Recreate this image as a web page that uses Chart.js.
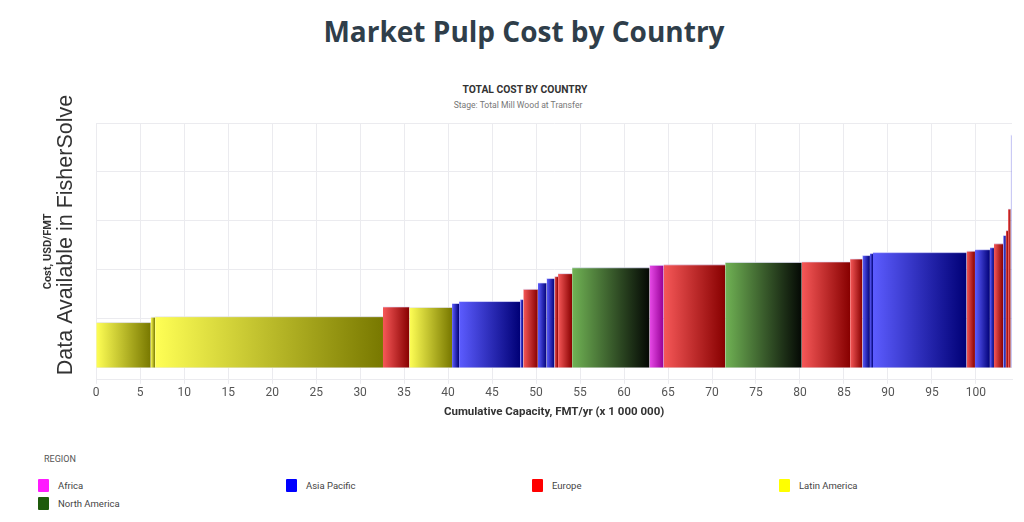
<!DOCTYPE html>
<html>
<head>
<meta charset="utf-8">
<title>Market Pulp Cost by Country</title>
<script src="https://cdn.jsdelivr.net/npm/chart.js@4.4.1/dist/chart.umd.min.js"></script>
<style>
  html, body { margin: 0; padding: 0; background: #fff; }
  body { width: 1024px; height: 522px; position: relative; overflow: hidden; font-family: Roboto, sans-serif; }
  h1 { position: absolute; top: 0; left: 12px; width: 1024px; margin: 0; text-align: center;
       font-family: "Open Sans", sans-serif; font-weight: 700; font-size: 28px; line-height: 62px; color: #2f3e4a; }
  .chart-title { position: absolute; left: 425px; width: 200px; text-align: center; top: 84px; font-size: 10.3px; font-weight: 700; color: #333; line-height: 12px; }
  .chart-sub { position: absolute; left: 418px; width: 200px; text-align: center; top: 100px; font-size: 8.6px; color: #777; line-height: 10px; }
  #wrap { position: absolute; left: 0; top: 72px; width: 1024px; height: 352px; }
  .legend-title { position: absolute; left: 44px; top: 454px; font-size: 9px; color: #555; }
  .item { position: absolute; font-size: 9.5px; color: #444; line-height: 13px; }
  .item span { display: inline-block; width: 11px; height: 13px; margin-right: 9px; vertical-align: top; border-radius: 1px; }
</style>
</head>
<body>
<h1>Market Pulp Cost by Country</h1>
<div class="chart-title">TOTAL COST BY COUNTRY</div>
<div class="chart-sub">Stage: Total Mill Wood at Transfer</div>
<div id="wrap"><canvas id="custoChart"></canvas></div>
<div class="legend-title">REGION</div>
<div id="legend"></div>
<script>
// faixas de capacidade acumulada (milhoes FMT/ano) e custo de cada pais
const capStart = [0, 6.2, 6.7, 32.6, 35.6, 40.45, 41.25, 48.2, 48.55, 50.2, 51.2, 52.1, 52.5, 54.1, 62.9, 64.5, 71.5, 80.2, 85.7, 87.1, 87.95, 88.3, 98.94, 99.89, 101.59, 102.05, 103.1, 103.4, 103.65, 103.95];
const capEnd   = [6.2, 6.7, 32.6, 35.6, 40.45, 41.25, 48.2, 48.55, 50.2, 51.2, 52.1, 52.5, 54.1, 62.9, 64.5, 71.5, 80.2, 85.7, 87.1, 87.95, 88.3, 98.94, 99.89, 101.59, 102.05, 103.1, 103.4, 103.65, 103.95, 104.08];
const cost     = [92, 103, 104, 124, 123, 131, 135, 139, 160, 173, 182, 186, 192, 204, 209, 210, 215, 216, 222, 229, 233, 235, 238, 241, 245, 253, 270, 280, 324, 475];
const barRegion = ['Latin America', 'Latin America', 'Latin America', 'Europe', 'Latin America', 'Asia Pacific', 'Asia Pacific', 'Asia Pacific', 'Europe', 'Asia Pacific', 'Asia Pacific', 'Europe', 'Europe', 'North America', 'Africa', 'Europe', 'North America', 'Europe', 'Europe', 'Asia Pacific', 'Asia Pacific', 'Asia Pacific', 'Europe', 'Asia Pacific', 'Asia Pacific', 'Europe', 'Asia Pacific', 'Europe', 'Europe', 'Asia Pacific'];

const regions = ['Africa', 'Asia Pacific', 'Europe', 'Latin America', 'North America'];
const xTickValues = [0, 5, 10, 15, 20, 25, 30, 35, 40, 45, 50, 55, 60, 65, 70, 75, 80, 85, 90, 95, 100];
const yGridValues = [-25, 0, 100, 200, 300, 400, 500];

const cores = {
    'Africa':        { claro: 'rgb(232,74,232)', escuro: 'rgb(150,0,150)', legenda: '#ff1aff' },
    'Asia Pacific':  { claro: 'rgb(92,92,255)',  escuro: 'rgb(0,0,118)',   legenda: '#0000ff' },
    'Europe':        { claro: 'rgb(246,88,88)',  escuro: 'rgb(135,0,0)',   legenda: '#ff0000' },
    'Latin America': { claro: 'rgb(255,255,85)', escuro: 'rgb(120,120,0)', legenda: '#ffff00' },
    'North America': { claro: 'rgb(112,178,84)', escuro: 'rgb(4,8,4)',     legenda: '#1e5b0c' }
};

// degrade horizontal de cada barra (claro -> escuro)
function gradienteBarra(chart, ini, fim, cor) {
    if (!chart.chartArea) return cor.claro;
    const xs = chart.scales.x;
    const x0 = xs.getPixelForValue(ini);
    const x1 = xs.getPixelForValue(fim);
    if (!isFinite(x0) || x1 - x0 < 1.5) return 'rgba(150,150,235,0.75)';
    const g = chart.ctx.createLinearGradient(x0, 0, x1, 0);
    g.addColorStop(0, cor.claro);
    g.addColorStop(1, cor.escuro);
    return g;
}

const datasets = capStart.map((ini, i) => {
    const cor = cores[barRegion[i]];
    return {
        label: barRegion[i],
        data: [{ x: ini, y: cost[i] }, { x: capEnd[i], y: cost[i] }],
        fill: 'origin',
        pointRadius: 0,
        borderWidth: 1,
        borderColor: 'rgba(230,230,255,0.7)',
        backgroundColor: c => gradienteBarra(c.chart, ini, capEnd[i], cor)
    };
});

// texto lateral
const textoLateral = {
    id: 'textoLateral',
    afterDraw(chart) {
        const c = chart.ctx;
        c.save();
        c.translate(66, 163);
        c.rotate(-Math.PI / 2);
        c.font = '21.5px "Liberation Sans", Arial, sans-serif';
        c.fillStyle = '#333';
        c.textAlign = 'center';
        c.textBaseline = 'middle';
        c.fillText('Data Available in FisherSolve', 0, 0);
        c.restore();
    }
};

const grade = '#ebebef';

new Chart(document.getElementById('custoChart'), {
    type: 'line',
    data: { datasets },
    options: {
        responsive: true,
        maintainAspectRatio: false,
        animation: false,
        events: [],
        layout: { padding: { top: 51, right: 12, bottom: 1, left: 0 } },
        plugins: {
            legend: { display: false },
            tooltip: { enabled: false }
        },
        scales: {
            x: {
                type: 'linear',
                min: 0,
                max: 104.1,
                afterBuildTicks: axis => { axis.ticks = xTickValues.map(v => ({ value: v })); },
                grid: { color: grade, tickLength: 4 },
                border: { color: grade },
                ticks: { color: '#555', font: { family: 'Roboto', size: 12 }, padding: 2, maxRotation: 0 },
                title: {
                    display: true,
                    text: 'Cumulative Capacity, FMT/yr (x 1 000 000)',
                    color: '#333',
                    font: { family: 'Roboto', size: 11.5, weight: 'bold' },
                    padding: { top: 3, bottom: 4 }
                }
            },
            y: {
                min: -25,
                max: 500,
                afterBuildTicks: axis => { axis.ticks = yGridValues.map(v => ({ value: v })); },
                grid: { color: grade, drawTicks: false },
                border: { color: grade },
                ticks: { display: false },
                title: {
                    display: true,
                    text: 'Cost, USD/FMT',
                    color: '#333',
                    font: { family: 'Roboto', size: 11, weight: 'bold' },
                    padding: { top: 41.5, bottom: 41.5 }
                }
            }
        }
    },
    plugins: [textoLateral]
});

// legenda em HTML
const posLegenda = [[38, 479], [286, 479], [532, 479], [779, 479], [38, 497]];
const legenda = document.getElementById('legend');
regions.forEach((r, i) => {
    const d = document.createElement('div');
    d.className = 'item';
    d.style.left = posLegenda[i][0] + 'px';
    d.style.top = posLegenda[i][1] + 'px';
    d.innerHTML = `<span style="background:${cores[r].legenda}"></span>${r}`;
    legenda.appendChild(d);
});
</script>
</body>
</html>
